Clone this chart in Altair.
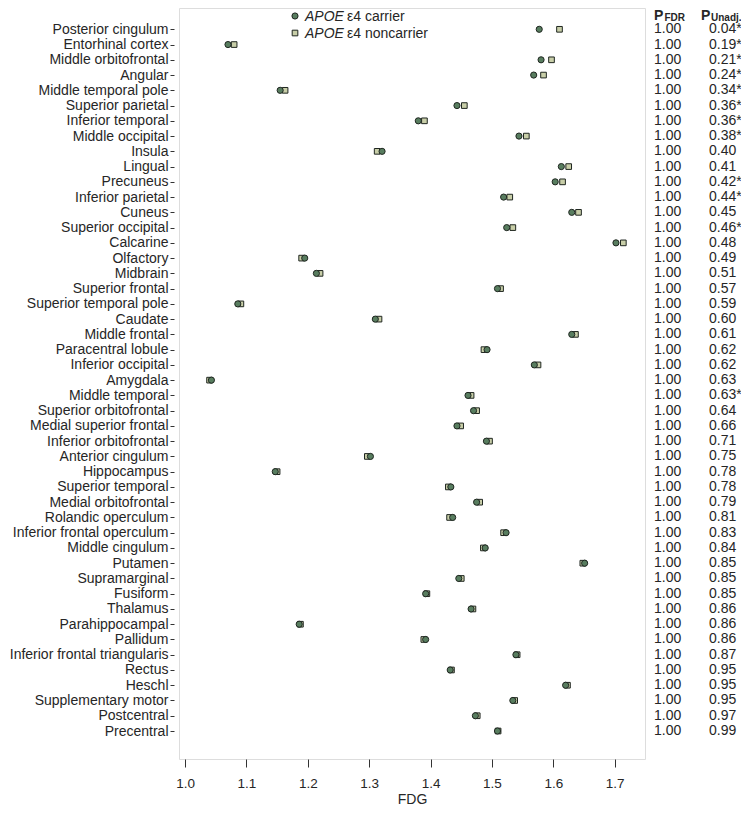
import altair as alt
import pandas as pd

regions = [
    "Posterior cingulum", "Entorhinal cortex", "Middle orbitofrontal", "Angular",
    "Middle temporal pole", "Superior parietal", "Inferior temporal", "Middle occipital",
    "Insula", "Lingual", "Precuneus", "Inferior parietal", "Cuneus", "Superior occipital",
    "Calcarine", "Olfactory", "Midbrain", "Superior frontal", "Superior temporal pole",
    "Caudate", "Middle frontal", "Paracentral lobule", "Inferior occipital", "Amygdala",
    "Middle temporal", "Superior orbitofrontal", "Medial superior frontal",
    "Inferior orbitofrontal", "Anterior cingulum", "Hippocampus", "Superior temporal",
    "Medial orbitofrontal", "Rolandic operculum", "Inferior frontal operculum",
    "Middle cingulum", "Putamen", "Supramarginal", "Fusiform", "Thalamus",
    "Parahippocampal", "Pallidum", "Inferior frontal triangularis", "Rectus", "Heschl",
    "Supplementary motor", "Postcentral", "Precentral",
]

carrier = [
    1.577, 1.070, 1.580, 1.568, 1.155, 1.443, 1.380, 1.544, 1.321, 1.613, 1.603, 1.519,
    1.630, 1.524, 1.702, 1.195, 1.214, 1.509, 1.086, 1.310, 1.630, 1.492, 1.569, 1.043,
    1.461, 1.470, 1.443, 1.491, 1.302, 1.147, 1.433, 1.475, 1.436, 1.523, 1.489, 1.651,
    1.446, 1.392, 1.466, 1.186, 1.392, 1.539, 1.432, 1.620, 1.534, 1.473, 1.509,
]

noncarrier = [
    1.610, 1.080, 1.597, 1.584, 1.163, 1.455, 1.390, 1.556, 1.313, 1.625, 1.615, 1.529,
    1.641, 1.534, 1.714, 1.190, 1.220, 1.514, 1.091, 1.316, 1.636, 1.487, 1.575, 1.040,
    1.466, 1.475, 1.449, 1.496, 1.297, 1.150, 1.429, 1.480, 1.431, 1.519, 1.486, 1.648,
    1.450, 1.394, 1.469, 1.188, 1.389, 1.541, 1.434, 1.623, 1.537, 1.476, 1.510,
]

p_fdr = ["1.00"] * 47

p_unadj = [
    "0.04*", "0.19*", "0.21*", "0.24*", "0.34*", "0.36*", "0.36*", "0.38*", "0.40", "0.41",
    "0.42*", "0.44*", "0.45", "0.46*", "0.48", "0.49", "0.51", "0.57", "0.59", "0.60",
    "0.61", "0.62", "0.62", "0.63", "0.63*", "0.64", "0.66", "0.71", "0.75", "0.78",
    "0.78", "0.79", "0.81", "0.83", "0.84", "0.85", "0.85", "0.85", "0.86", "0.86",
    "0.86", "0.87", "0.95", "0.95", "0.95", "0.97", "0.99",
]

x_ticks = [1.0, 1.1, 1.2, 1.3, 1.4, 1.5, 1.6, 1.7]
legend_italic = ["APOE", "APOE"]
legend_rest = ["ε4 carrier", "ε4 noncarrier"]

FONT = "Liberation Sans"
TXT = "#262626"
CIRCLE_FILL = "#587d5f"
SQUARE_FILL = "#c8cea8"
EDGE = "#1f2620"

df = pd.DataFrame({
    "region": regions,
    "carrier": carrier,
    "noncarrier": noncarrier,
    "p_fdr": p_fdr,
    "p_unadj": p_unadj,
})

W, H = 466, 751

y_enc = alt.Y(
    "region:N",
    sort=regions,
    title=None,
    scale=alt.Scale(type="point", padding=0, range=[21.3, 723]),
    axis=alt.Axis(
        domain=False, ticks=True, tickSize=4, tickColor="#333333", offset=5,
        labelPadding=2, labelFontSize=14, labelFont=FONT, labelColor=TXT,
        labelLimit=300,
    ),
)

x_scale = alt.Scale(domain=[0.9902, 1.7493], nice=False, zero=False)
x_axis = alt.Axis(
    values=x_ticks, format=".1f", grid=False, domain=False, tickSize=8,
    tickColor="#333333", labelFontSize=13.5, labelFont=FONT, labelColor=TXT,
    labelPadding=9, title="FDG", titleFont=FONT, titleFontSize=14,
    titleFontWeight="normal", titleColor=TXT, titlePadding=3,
)

base = alt.Chart(df)

squares = base.mark_point(
    shape="square", filled=True, fill=SQUARE_FILL, stroke=EDGE, strokeWidth=1,
    size=32, opacity=1,
).encode(
    x=alt.X("noncarrier:Q", scale=x_scale, axis=x_axis),
    y=y_enc,
)

circles = base.mark_point(
    shape="circle", filled=True, fill=CIRCLE_FILL, stroke=EDGE, strokeWidth=1,
    size=38, opacity=1,
).encode(
    x=alt.X("carrier:Q", scale=x_scale, axis=x_axis),
    y=y_enc,
)

col_fdr = base.mark_text(
    align="left", baseline="middle", font=FONT, fontSize=14, color=TXT
).encode(y=y_enc, x=alt.value(475), text="p_fdr:N")

col_unadj = base.mark_text(
    align="left", baseline="middle", font=FONT, fontSize=14, color=TXT
).encode(y=y_enc, x=alt.value(530), text="p_unadj:N")

hdr = alt.Chart(pd.DataFrame({"P": ["P"], "s1": ["FDR"], "s2": ["Unadj."]}))
h1 = hdr.mark_text(align="left", baseline="alphabetic", font=FONT, fontSize=14,
                   fontWeight="bold", color=TXT).encode(
    x=alt.value(475), y=alt.value(12), text="P:N")
h1s = hdr.mark_text(align="left", baseline="alphabetic", font=FONT, fontSize=10,
                    fontWeight="bold", color=TXT).encode(
    x=alt.value(485.5), y=alt.value(13), text="s1:N")
h2 = hdr.mark_text(align="left", baseline="alphabetic", font=FONT, fontSize=14,
                   fontWeight="bold", color=TXT).encode(
    x=alt.value(522), y=alt.value(12), text="P:N")
h2s = hdr.mark_text(align="left", baseline="alphabetic", font=FONT, fontSize=10,
                    fontWeight="bold", color=TXT).encode(
    x=alt.value(532), y=alt.value(13), text="s2:N")

leg_c = alt.Chart(pd.DataFrame({"k": [0]})).mark_point(
    shape="circle", filled=True, fill=CIRCLE_FILL, stroke=EDGE, strokeWidth=1,
    size=38, opacity=1).encode(x=alt.value(116), y=alt.value(8))
leg_s = alt.Chart(pd.DataFrame({"k": [0]})).mark_point(
    shape="square", filled=True, fill=SQUARE_FILL, stroke=EDGE, strokeWidth=1,
    size=32, opacity=1).encode(x=alt.value(116), y=alt.value(25))

leg_t1a = alt.Chart(pd.DataFrame({"t": [legend_italic[0]]})).mark_text(
    align="left", baseline="middle", font=FONT, fontSize=14, fontStyle="italic",
    color=TXT).encode(x=alt.value(126), y=alt.value(8.5), text="t:N")
leg_t1b = alt.Chart(pd.DataFrame({"t": [legend_rest[0]]})).mark_text(
    align="left", baseline="middle", font=FONT, fontSize=14, color=TXT).encode(
    x=alt.value(168), y=alt.value(8.5), text="t:N")
leg_t2a = alt.Chart(pd.DataFrame({"t": [legend_italic[1]]})).mark_text(
    align="left", baseline="middle", font=FONT, fontSize=14, fontStyle="italic",
    color=TXT).encode(x=alt.value(126), y=alt.value(25.5), text="t:N")
leg_t2b = alt.Chart(pd.DataFrame({"t": [legend_rest[1]]})).mark_text(
    align="left", baseline="middle", font=FONT, fontSize=14, color=TXT).encode(
    x=alt.value(168), y=alt.value(25.5), text="t:N")

chart = alt.layer(
    squares, circles, col_fdr, col_unadj, h1, h1s, h2, h2s,
    leg_c, leg_s, leg_t1a, leg_t1b, leg_t2a, leg_t2b,
).properties(
    width=W, height=H,
    autosize=alt.AutoSizeParams(type="none"),
    padding={"left": 171, "top": 0, "right": 96, "bottom": 50},
).configure_view(
    stroke="#3c3c3c", strokeWidth=1.5,
).configure(background="white")

chart.save("out.html", embed_options={"renderer": "svg", "actions": False})
